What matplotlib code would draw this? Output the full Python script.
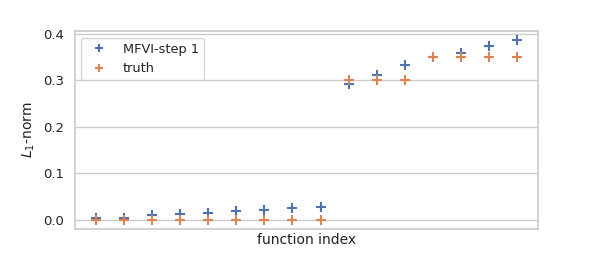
import matplotlib
matplotlib.use("Agg")
import matplotlib.pyplot as plt
import seaborn as sns
import numpy as np

sns.set_theme(style="whitegrid", palette="deep")

# valores
idx = np.arange(16)
mfvi = [0.005, 0.004, 0.011, 0.012, 0.015, 0.019, 0.022, 0.025, 0.028,
        0.291, 0.311, 0.333, 0.349, 0.358, 0.373, 0.386]
truth = [0.0, 0.0, 0.0, 0.0, 0.0, 0.0, 0.0, 0.0, 0.0,
         0.30, 0.30, 0.30, 0.35, 0.35, 0.35, 0.35]

fig = plt.figure(figsize=(5.98, 2.57), dpi=100)
ax = fig.add_axes([0.125, 0.109, 0.775, 0.770])

ax.plot(idx, mfvi, '+', color="#4C72B0", ms=7, mew=1.5, label="MFVI-step 1")
ax.plot(idx, truth, '+', color="#DD8452", ms=7, mew=1.5, label="truth")

ax.set_xticks([])
ax.set_yticks([0.0, 0.1, 0.2, 0.3, 0.4])
ax.tick_params(axis='y', labelsize=9.5, pad=2, labelcolor="#222222")
ax.set_xlabel("function index", fontsize=10, labelpad=3, color="#222222")
ax.set_ylabel("$L_1$-norm", fontsize=10, color="#222222")
leg = ax.legend(loc="upper left", fontsize=9.3, markerscale=0.85)
for t in leg.get_texts():
    t.set_color("#222222")

fig.savefig("out.png", dpi=100)
